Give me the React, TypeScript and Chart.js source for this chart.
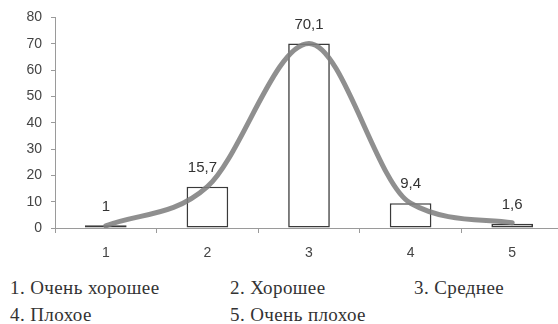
import React, { useEffect, useRef } from "react";
import { Chart, registerables } from "chart.js";

Chart.register(...registerables);

const categories = ["1", "2", "3", "4", "5"];
const barValues = [1, 15.7, 70.1, 9.4, 1.6];
const curveValues = [0.8, 15.7, 70.1, 9.4, 2];
const yMin = 0;
const yMax = 80;
const yStep = 10;
const legendRow1 = ["1. Очень хорошее", "2. Хорошее", "3. Среднее"];
const legendRow2 = ["4. Плохое", "5. Очень плохое"];

const fmt = (v: number) => String(v).replace(".", ",");

const valueLabels = {
  id: "valueLabels",
  afterDatasetsDraw(chart: any) {
    const meta = chart.getDatasetMeta(0);
    const ctx = chart.ctx;
    ctx.save();
    ctx.font = "15px 'Liberation Sans', Arial, sans-serif";
    ctx.fillStyle = "#333";
    ctx.textAlign = "center";
    ctx.textBaseline = "middle";
    meta.data.forEach((bar: any, i: number) => {
      ctx.fillText(fmt(barValues[i]), bar.x - (i === 1 ? 5 : 0), bar.y - 19);
    });
    ctx.restore();
  },
};

export default function App() {
  const ref = useRef<HTMLCanvasElement | null>(null);

  useEffect(() => {
    if (!ref.current) return;
    const chart = new Chart(ref.current, {
      type: "bar",
      data: {
        labels: categories,
        datasets: [
          {
            type: "bar",
            data: barValues,
            backgroundColor: "#ffffff",
            borderColor: "#3a3a3a",
            borderWidth: 1.6,
            borderSkipped: false,
            barPercentage: 0.41,
            categoryPercentage: 1,
            order: 1,
          } as any,
          {
            type: "line",
            data: curveValues,
            borderColor: "rgba(128,128,128,0.88)",
            borderWidth: 5,
            pointRadius: 0,
            cubicInterpolationMode: "monotone",
            borderCapStyle: "round",
            fill: false,
            order: 0,
          } as any,
        ],
      },
      plugins: [valueLabels],
      options: {
        responsive: false,
        animation: false,
        layout: { padding: { top: 17, left: 0, right: 0, bottom: 0 } },
        plugins: { legend: { display: false }, tooltip: { enabled: false } },
        scales: {
          x: {
            type: "category",
            grid: {
              display: true,
              drawOnChartArea: false,
              offset: true,
              tickLength: 5,
              color: "#9a9a9a",
            },
            border: { color: "#9a9a9a", width: 1 },
            ticks: {
              font: { size: 14, family: "'Liberation Sans', Arial, sans-serif" },
              color: "#444",
              padding: 12,
            },
            afterFit(scale: any) {
              scale.height = 34;
            },
          },
          y: {
            min: yMin,
            max: yMax,
            ticks: {
              stepSize: yStep,
              font: { size: 14, family: "'Liberation Sans', Arial, sans-serif" },
              color: "#444",
              padding: 9,
            },
            grid: {
              display: true,
              drawOnChartArea: false,
              tickLength: 4,
              color: "#9a9a9a",
            },
            border: { color: "#9a9a9a", width: 1 },
            afterFit(scale: any) {
              scale.width = 55;
            },
          },
        },
      },
    });
    return () => chart.destroy();
  }, []);

  const legendStyle: React.CSSProperties = {
    position: "absolute",
    fontFamily: "'Liberation Serif', 'Times New Roman', serif",
    fontSize: 19,
    letterSpacing: "0.4px",
    color: "#333",
    lineHeight: "20px",
    whiteSpace: "nowrap",
  };
  const cols = [10, 230, 414];

  return (
    <div
      style={{
        position: "absolute",
        left: 0,
        top: 0,
        width: 558,
        height: 324,
        overflow: "hidden",
        background: "#fff",
      }}
    >
      <canvas ref={ref} width={563} height={262} style={{ display: "block", width: 563, height: 262 }} />
      {legendRow1.map((t, i) => (
        <div key={"r1" + i} style={{ ...legendStyle, left: cols[i], top: 278 }}>
          {t}
        </div>
      ))}
      {legendRow2.map((t, i) => (
        <div key={"r2" + i} style={{ ...legendStyle, left: cols[i], top: 305 }}>
          {t}
        </div>
      ))}
    </div>
  );
}
